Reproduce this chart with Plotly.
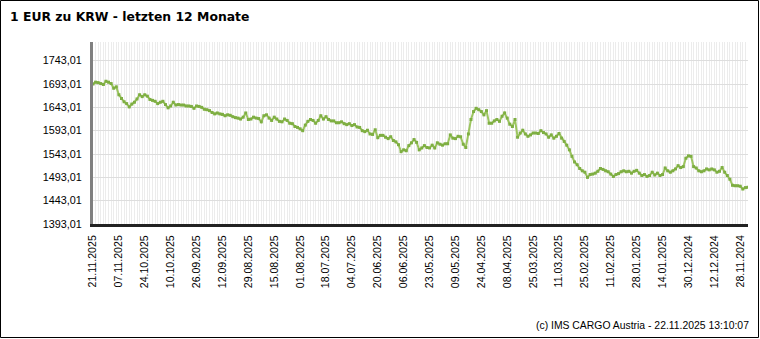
import plotly.graph_objects as go

# EUR -> KRW reference rates, newest (left) to oldest (right), one value per business day
kurs = [
    1693, 1697, 1696, 1694, 1692, 1699, 1697, 1694, 1684, 1687,
    1670, 1662, 1655, 1651, 1644, 1650, 1654, 1661, 1670, 1666,
    1670, 1667, 1660, 1658, 1656, 1651, 1654, 1656, 1649, 1642,
    1646, 1654, 1648, 1649, 1648, 1648, 1646, 1646, 1645, 1641,
    1646, 1645, 1643, 1639, 1638, 1636, 1632, 1629, 1631, 1629,
    1628, 1625, 1627, 1626, 1623, 1621, 1620, 1618, 1622, 1631,
    1617, 1618, 1622, 1620, 1619, 1612, 1625, 1627, 1620, 1615,
    1622, 1618, 1613, 1612, 1618, 1615, 1609, 1608, 1602, 1600,
    1597, 1593, 1605, 1613, 1617, 1615, 1609, 1615, 1625, 1618,
    1623, 1617, 1614, 1614, 1610, 1610, 1612, 1608, 1606, 1608,
    1604, 1606, 1601, 1600, 1593, 1591, 1594, 1586, 1585, 1595,
    1578, 1583, 1583, 1579, 1576, 1580, 1572, 1569, 1563, 1548,
    1552, 1550, 1561, 1567, 1574, 1568, 1552, 1556, 1561, 1557,
    1556, 1562, 1556, 1567, 1564, 1562, 1565, 1565, 1584, 1577,
    1576, 1581, 1580, 1564, 1557, 1586, 1617, 1634, 1641, 1638,
    1634, 1627, 1636, 1609, 1609, 1614, 1617, 1613, 1624, 1631,
    1620, 1607, 1602, 1617, 1579, 1588, 1594, 1586, 1581, 1584,
    1588, 1588, 1587, 1593, 1589, 1586, 1579, 1584, 1577, 1581,
    1587, 1577, 1570, 1562, 1552, 1538, 1526, 1520, 1512, 1507,
    1504, 1493, 1499, 1500, 1502, 1506, 1512, 1510, 1507, 1505,
    1500, 1495, 1499, 1501, 1505, 1507, 1505, 1506, 1502, 1506,
    1508, 1502, 1497, 1499, 1495, 1497, 1504, 1498, 1502, 1497,
    1499, 1513, 1507, 1504, 1507, 1511, 1518, 1514, 1516, 1534,
    1539, 1538, 1516, 1513, 1507, 1505, 1507, 1511, 1509, 1511,
    1509, 1504, 1506, 1514, 1504, 1497, 1489, 1476, 1475, 1475,
    1474, 1468, 1471, 1472,
]

# x tick labels (every 10th business day, newest first)
datum_labels = [
    "21.11.2025", "07.11.2025", "24.10.2025", "10.10.2025", "26.09.2025",
    "12.09.2025", "29.08.2025", "15.08.2025", "01.08.2025", "18.07.2025",
    "04.07.2025", "20.06.2025", "06.06.2025", "23.05.2025", "09.05.2025",
    "24.04.2025", "08.04.2025", "25.03.2025", "11.03.2025", "25.02.2025",
    "11.02.2025", "28.01.2025", "14.01.2025", "30.12.2024", "12.12.2024",
    "28.11.2024",
]
label_step = 10

# y tick values / labels
y_ticks = [1393.01, 1443.01, 1493.01, 1543.01, 1593.01, 1643.01, 1693.01, 1743.01]
y_labels = ["1393,01", "1443,01", "1493,01", "1543,01", "1593,01", "1643,01", "1693,01", "1743,01"]
y_top = 1783.1

titel = "1 EUR zu KRW - letzten 12 Monate"
fusszeile = "(c) IMS CARGO Austria - 22.11.2025 13:10:07"

W, H = 760, 339
ML, MR, MT, MB = 93, 12, 42, 115
PW, PH = W - ML - MR, H - MT - MB

x_idx = list(range(len(kurs)))

fig = go.Figure()
fig.add_trace(go.Scatter(
    x=x_idx, y=kurs, mode="lines+markers",
    line=dict(color="#9cc55f", width=2),
    marker=dict(color="#7eae42", size=3, symbol="square"),
    hovertemplate="%{y:.2f}<extra></extra>",
))

fig.update_layout(
    width=W, height=H,
    margin=dict(l=ML, r=MR, t=MT, b=MB),
    paper_bgcolor="white", plot_bgcolor="white",
    showlegend=False,
    font=dict(family="Liberation Sans, Arial, sans-serif", size=10.6, color="#000"),
    title=dict(
        text=titel, xref="container", yref="container",
        x=10 / W, xanchor="left", y=1 - 17 / H, yanchor="middle",
        font=dict(family="DejaVu Sans", size=12.4, color="#000", weight="bold"),
    ),
)

fig.update_xaxes(
    range=[0, len(kurs) - 1],
    tickmode="array",
    tickvals=[i * label_step for i in range(len(datum_labels))],
    ticktext=datum_labels,
    tickangle=-90,
    tickfont=dict(size=10.6, color="#000"),
    ticks="", ticklabelstandoff=4,
    showgrid=True, gridcolor="#ececec", gridwidth=1,
    minor=dict(dtick=1, tick0=0, showgrid=True, gridcolor="#ececec", gridwidth=1),
    showline=True, linecolor="#222222", linewidth=3,
    zeroline=False, fixedrange=True,
)
fig.update_yaxes(
    range=[y_ticks[0], y_top],
    tickmode="array", tickvals=y_ticks, ticktext=y_labels,
    tickfont=dict(size=10.8, color="#000"),
    ticks="", ticklabelstandoff=6,
    showgrid=True, gridcolor="#dddddd", gridwidth=1,
    showline=True, linecolor="#808080", linewidth=3,
    zeroline=False, fixedrange=True,
)

# footer
fig.add_annotation(
    text=fusszeile, xref="paper", yref="paper",
    x=1 + (751 - (W - MR)) / PW, xanchor="right",
    y=-(325 - (H - MB)) / PH, yanchor="middle",
    showarrow=False, font=dict(size=10.4, color="#000"),
)

# outer border
fig.add_shape(
    type="rect", xref="paper", yref="paper",
    x0=-(ML - 0.5) / PW, x1=1 + (MR - 1.5) / PW,
    y0=-(MB - 1.5) / PH, y1=1 + (MT - 0.5) / PH,
    line=dict(color="#000", width=1), fillcolor="rgba(0,0,0,0)", layer="above",
)

fig.write_html("out.html")
